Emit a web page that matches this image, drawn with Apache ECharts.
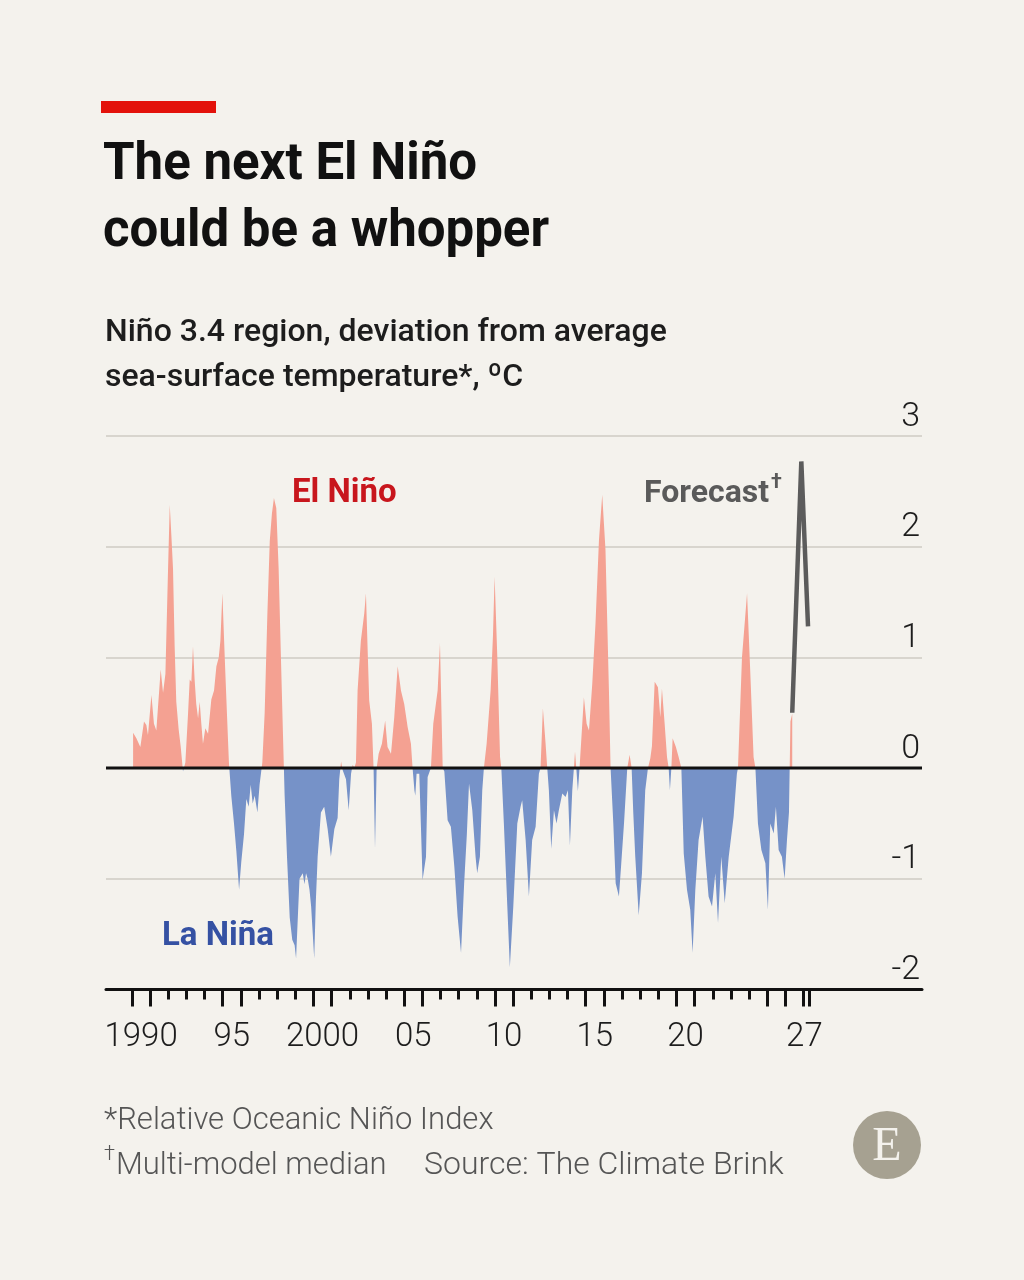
<!DOCTYPE html>
<html>
<head>
<meta charset="utf-8">
<script src="https://cdn.jsdelivr.net/npm/echarts@6/dist/echarts.min.js"></script>
<style>
  html, body { margin: 0; padding: 0; background: #f4f2ed; }
  #chart { width: 1024px; height: 1280px; }
</style>
</head>
<body>
<div id="chart"></div>
<script>
const obsYears = [
  1990.06, 1990.24, 1990.33, 1990.46, 1990.66, 1990.79, 1990.88, 1991.07, 1991.21, 1991.34,
  1991.58, 1991.71, 1991.84, 1991.97, 1992.08, 1992.17, 1992.26, 1992.35, 1992.44, 1992.57,
  1992.68, 1992.81, 1992.94, 1993.09, 1993.18, 1993.27, 1993.36, 1993.45, 1993.54, 1993.64,
  1993.73, 1993.82, 1993.91, 1994.04, 1994.19, 1994.37, 1994.52, 1994.65, 1994.78, 1994.87,
  1994.98, 1995.11, 1995.23, 1995.34, 1995.47, 1995.62, 1995.75, 1995.90, 1996.02, 1996.17,
  1996.30, 1996.43, 1996.54, 1996.65, 1996.76, 1996.91, 1997.03, 1997.18, 1997.31, 1997.46,
  1997.59, 1997.71, 1997.82, 1997.95, 1998.08, 1998.19, 1998.32, 1998.41, 1998.54, 1998.69,
  1998.83, 1998.96, 1999.04, 1999.15, 1999.23, 1999.32, 1999.41, 1999.50, 1999.59, 1999.68,
  1999.78, 1999.87, 2000.04, 2000.13, 2000.23, 2000.41, 2000.59, 2000.78, 2000.96, 2001.15,
  2001.33, 2001.42, 2001.52, 2001.61, 2001.79, 2001.94, 2002.07, 2002.16, 2002.25, 2002.34,
  2002.43, 2002.61, 2002.80, 2002.89, 2003.07, 2003.22, 2003.31, 2003.39, 2003.48, 2003.59,
  2003.77, 2003.95, 2004.08, 2004.27, 2004.45, 2004.64, 2004.82, 2005.00, 2005.19, 2005.37,
  2005.46, 2005.56, 2005.61, 2005.68, 2005.83, 2006.01, 2006.20, 2006.29, 2006.47, 2006.60,
  2006.84, 2006.97, 2007.12, 2007.21, 2007.39, 2007.57, 2007.76, 2007.94, 2008.13, 2008.30,
  2008.45, 2008.57, 2008.75, 2008.93, 2009.02, 2009.17, 2009.30, 2009.39, 2009.54, 2009.76,
  2009.89, 2009.98, 2010.13, 2010.28, 2010.35, 2010.49, 2010.68, 2010.82, 2011.01, 2011.23,
  2011.41, 2011.50, 2011.69, 2011.87, 2012.05, 2012.24, 2012.42, 2012.51, 2012.64, 2012.79,
  2012.88, 2012.97, 2013.10, 2013.25, 2013.39, 2013.52, 2013.71, 2013.89, 2014.02, 2014.13,
  2014.26, 2014.35, 2014.41, 2014.48, 2014.57, 2014.66, 2014.90, 2015.05, 2015.18, 2015.36,
  2015.54, 2015.73, 2015.91, 2016.09, 2016.28, 2016.37, 2016.52, 2016.65, 2016.83, 2016.96,
  2017.11, 2017.29, 2017.42, 2017.53, 2017.62, 2017.73, 2017.92, 2018.10, 2018.28, 2018.43,
  2018.56, 2018.65, 2018.80, 2018.98, 2019.11, 2019.20, 2019.35, 2019.48, 2019.57, 2019.64,
  2019.72, 2019.79, 2019.97, 2020.12, 2020.27, 2020.40, 2020.58, 2020.76, 2020.89, 2021.04,
  2021.22, 2021.44, 2021.59, 2021.77, 2021.96, 2022.14, 2022.29, 2022.47, 2022.66, 2022.88,
  2023.15, 2023.33, 2023.39, 2023.61, 2023.89, 2024.07, 2024.25, 2024.35, 2024.49, 2024.68,
  2024.90, 2025.04, 2025.17, 2025.36, 2025.48, 2025.63, 2025.81, 2025.96, 2026.09, 2026.20,
  2026.24, 2026.28, 2026.38
]
const obsValues = [
  0.32, 0.27, 0.28, 0.19, 0.42, 0.39, 0.30, 0.66, 0.40, 0.34,
  0.89, 0.68, 0.85, 1.70, 2.38, 2.10, 1.80, 1.10, 0.60, 0.35,
  0.20, -0.03, 0.05, 0.50, 0.80, 0.78, 1.10, 0.80, 0.58, 0.45,
  0.60, 0.40, 0.22, 0.36, 0.31, 0.62, 0.70, 0.92, 1.00, 1.15,
  1.58, 1.00, 0.50, 0.05, -0.25, -0.50, -0.75, -1.10, -0.85, -0.60,
  -0.28, -0.35, -0.15, -0.32, -0.25, -0.40, -0.15, 0.05, 0.50, 1.40,
  2.05, 2.30, 2.44, 2.35, 1.80, 1.10, 0.30, -0.25, -0.80, -1.35,
  -1.55, -1.60, -1.72, -1.30, -1.00, -1.00, -0.95, -1.05, -0.95, -1.00,
  -1.10, -1.25, -1.72, -1.20, -0.80, -0.40, -0.35, -0.55, -0.80, -0.55,
  -0.45, -0.10, 0.06, -0.02, -0.10, -0.38, -0.05, 0.03, 0.00, 0.05,
  0.70, 1.15, 1.40, 1.58, 0.61, 0.40, 0.00, -0.73, 0.00, 0.13,
  0.22, 0.43, 0.19, 0.13, 0.46, 0.92, 0.70, 0.58, 0.37, 0.22,
  0.00, -0.20, -0.25, -0.05, -0.05, -1.01, -0.80, -0.08, 0.00, 0.40,
  0.70, 1.13, 0.00, -0.03, -0.47, -0.53, -0.89, -1.34, -1.67, -1.05,
  -0.60, -0.14, -0.38, -0.80, -0.95, -0.80, -0.20, 0.00, 0.22, 0.70,
  1.20, 1.73, 1.00, 0.10, 0.00, -0.50, -1.25, -1.80, -1.25, -0.50,
  -0.35, -0.29, -0.65, -1.16, -0.65, -0.53, -0.05, 0.00, 0.54, 0.22,
  0.00, -0.20, -0.73, -0.38, -0.50, -0.38, -0.23, -0.26, -0.20, -0.70,
  -0.20, 0.00, 0.15, 0.00, -0.21, 0.00, 0.64, 0.40, 0.34, 0.76,
  1.31, 2.06, 2.47, 1.97, 0.70, 0.00, -0.50, -1.04, -1.16, -0.86,
  -0.50, 0.00, 0.12, 0.00, -0.40, -0.80, -1.33, -0.95, -0.20, 0.00,
  0.09, 0.20, 0.78, 0.73, 0.46, 0.72, 0.40, 0.10, 0.00, -0.20,
  0.00, 0.27, 0.19, 0.10, 0.00, -0.77, -1.10, -1.28, -1.67, -1.10,
  -0.65, -0.44, -0.80, -1.16, -1.25, -0.95, -1.40, -0.80, -1.22, -0.80,
  -0.44, -0.05, 0.00, 1.00, 1.58, 0.86, 0.10, 0.00, -0.50, -0.74,
  -0.86, -1.28, -0.50, -0.59, -0.35, -0.74, -0.80, -1.00, -0.65, -0.40,
  0.00, 0.42, 0.49
]
// multi-model median forecast
const forecastYears = [2026.38, 2026.88, 2027.25]
const forecastValues = [0.5, 2.77, 1.28]

// axis ticks and labels
const majorTicks = [1990, 1991, 1995, 1996, 2000, 2001, 2005, 2006, 2010, 2011, 2015, 2016, 2020, 2021, 2025, 2026, 2027, 2027.3]
const minorTicks = [1992, 1993, 1994, 1997, 1998, 1999, 2002, 2003, 2004, 2007, 2008, 2009, 2012, 2013, 2014, 2017, 2018, 2019, 2022, 2023, 2024]
const xLabelPos = [1990.5, 1995.5, 2000.5, 2005.5, 2010.5, 2015.5, 2020.5, 2027.05]
const xLabelText = ["1990", "95", "2000", "05", "10", "15", "20", "27"]

const RED = "#f4a192"
const BLUE = "#7692c8"
const FONT = "Roboto"

const chart = echarts.init(document.getElementById("chart"))

const options = {
	backgroundColor: "#f4f2ed",
	animation: false,
	grid: { left: 106, right: 102, top: 436, bottom: 290.5, containLabel: false },
	visualMap: {
		show: false,
		type: "piecewise",
		seriesIndex: 0,
		dimension: 1,
		pieces: [
			{ min: 0, max: 5, color: RED },
			{ min: -5, max: 0, color: BLUE },
		],
	},
	xAxis: [
		{
			type: "value",
			min: 1988.567,
			max: 2033.53,
			position: "bottom",
			axisLine: { show: true, onZero: false, lineStyle: { color: "#111", width: 3 } },
			axisTick: { show: true, customValues: majorTicks, length: 17, lineStyle: { color: "#111", width: 3 } },
			axisLabel: {
				customValues: xLabelPos,
				formatter: (v) => {
					const i = xLabelPos.findIndex((p) => Math.abs(p - v) < 0.01)
					return i >= 0 ? xLabelText[i] : ""
				},
				margin: 32,
				fontFamily: FONT,
				fontWeight: 300,
				fontSize: 33,
				color: "#1d1d1d",
			},
			splitLine: { show: false },
		},
		{
			type: "value",
			min: 1988.567,
			max: 2033.53,
			position: "bottom",
			axisLine: { show: false, onZero: false },
			axisTick: { show: true, customValues: minorTicks, length: 10, lineStyle: { color: "#111", width: 3 } },
			axisLabel: { show: false },
			splitLine: { show: false },
		},
	],
	yAxis: {
		type: "value",
		min: -2,
		max: 3,
		interval: 1,
		position: "right",
		axisLine: { show: false },
		axisTick: { show: false },
		axisLabel: {
			inside: true,
			margin: 2,
			verticalAlign: "bottom",
			padding: [0, 0, 2, 0],
			fontFamily: FONT,
			fontWeight: 300,
			fontSize: 34,
			color: "#1d1d1d",
		},
		splitLine: { lineStyle: { color: "#d8d5ce", width: 2 } },
	},
	series: [
		{
			name: "Relative ONI",
			type: "line",
			data: obsYears.map((y, i) => [y, obsValues[i]]),
			showSymbol: false,
			lineStyle: { width: 0 },
			areaStyle: { opacity: 1 },
			silent: true,
			z: 2,
		},
		{
			name: "Forecast",
			type: "line",
			data: forecastYears.map((y, i) => [y, forecastValues[i]]),
			showSymbol: false,
			lineStyle: { color: "#5c5c5c", width: 4.5 },
			itemStyle: { color: "#5c5c5c" },
			silent: true,
			z: 3,
		},
		{
			// zero baseline
			name: "zero",
			type: "line",
			data: [[1988.567, 0], [2033.53, 0]],
			showSymbol: false,
			lineStyle: { color: "#111", width: 3 },
			itemStyle: { color: "#111" },
			silent: true,
			z: 4,
		},
	],
	graphic: [
		{ type: "rect", left: 101, top: 101, shape: { width: 115, height: 12 }, style: { fill: "#e3120b" } },
		{
			type: "text", x: 103, y: 166,
			style: { text: "The next El Niño", font: "700 51px Roboto", fill: "#111", textVerticalAlign: "middle" },
		},
		{
			type: "text", x: 103, y: 233,
			style: { text: "could be a whopper", font: "700 51px Roboto", fill: "#111", textVerticalAlign: "middle" },
		},
		{
			type: "text", x: 105, y: 333,
			style: { text: "Niño 3.4 region, deviation from average", font: "500 32px Roboto", fill: "#1d1d1d", textVerticalAlign: "middle" },
		},
		{
			type: "text", x: 105, y: 378,
			style: { text: "sea-surface temperature*, ºC", font: "500 32px Roboto", fill: "#1d1d1d", textVerticalAlign: "middle" },
		},
		{
			type: "text", x: 292, y: 494,
			style: { text: "El Niño", font: "700 33px Roboto", fill: "#c8161d", textVerticalAlign: "middle" },
		},
		{
			type: "text", x: 162, y: 937,
			style: { text: "La Niña", font: "700 33px Roboto", fill: "#3551a3", textVerticalAlign: "middle" },
		},
		{
			type: "text", x: 644, y: 494,
			style: { text: "Forecast", font: "700 32px Roboto", fill: "#5a5a5a", textVerticalAlign: "middle" },
		},
		{
			type: "text", x: 771, y: 483,
			style: { text: "†", font: "700 20px Roboto", fill: "#5a5a5a", textVerticalAlign: "middle" },
		},
		{
			type: "text", x: 104, y: 1121,
			style: { text: "*Relative Oceanic Niño Index", font: "300 31px Roboto", fill: "#555", textVerticalAlign: "middle" },
		},
		{
			type: "text", x: 104, y: 1155,
			style: { text: "†", font: "300 20px Roboto", fill: "#555", textVerticalAlign: "middle" },
		},
		{
			type: "text", x: 116, y: 1166,
			style: { text: "Multi-model median", font: "300 31px Roboto", fill: "#555", textVerticalAlign: "middle" },
		},
		{
			type: "text", x: 424, y: 1166,
			style: { text: "Source: The Climate Brink", font: "300 32px Roboto", fill: "#555", textVerticalAlign: "middle" },
		},
		{ type: "circle", shape: { cx: 887, cy: 1145, r: 34 }, style: { fill: "#a6a191" } },
		{
			type: "text", x: 887, y: 1147,
			style: { text: "E", font: "48px 'Liberation Serif'", fill: "#f4f2ed", textAlign: "center", textVerticalAlign: "middle" },
		},
	],
}

chart.setOption(options)
window.addEventListener("resize", () => chart.resize())
</script>
</body>
</html>
